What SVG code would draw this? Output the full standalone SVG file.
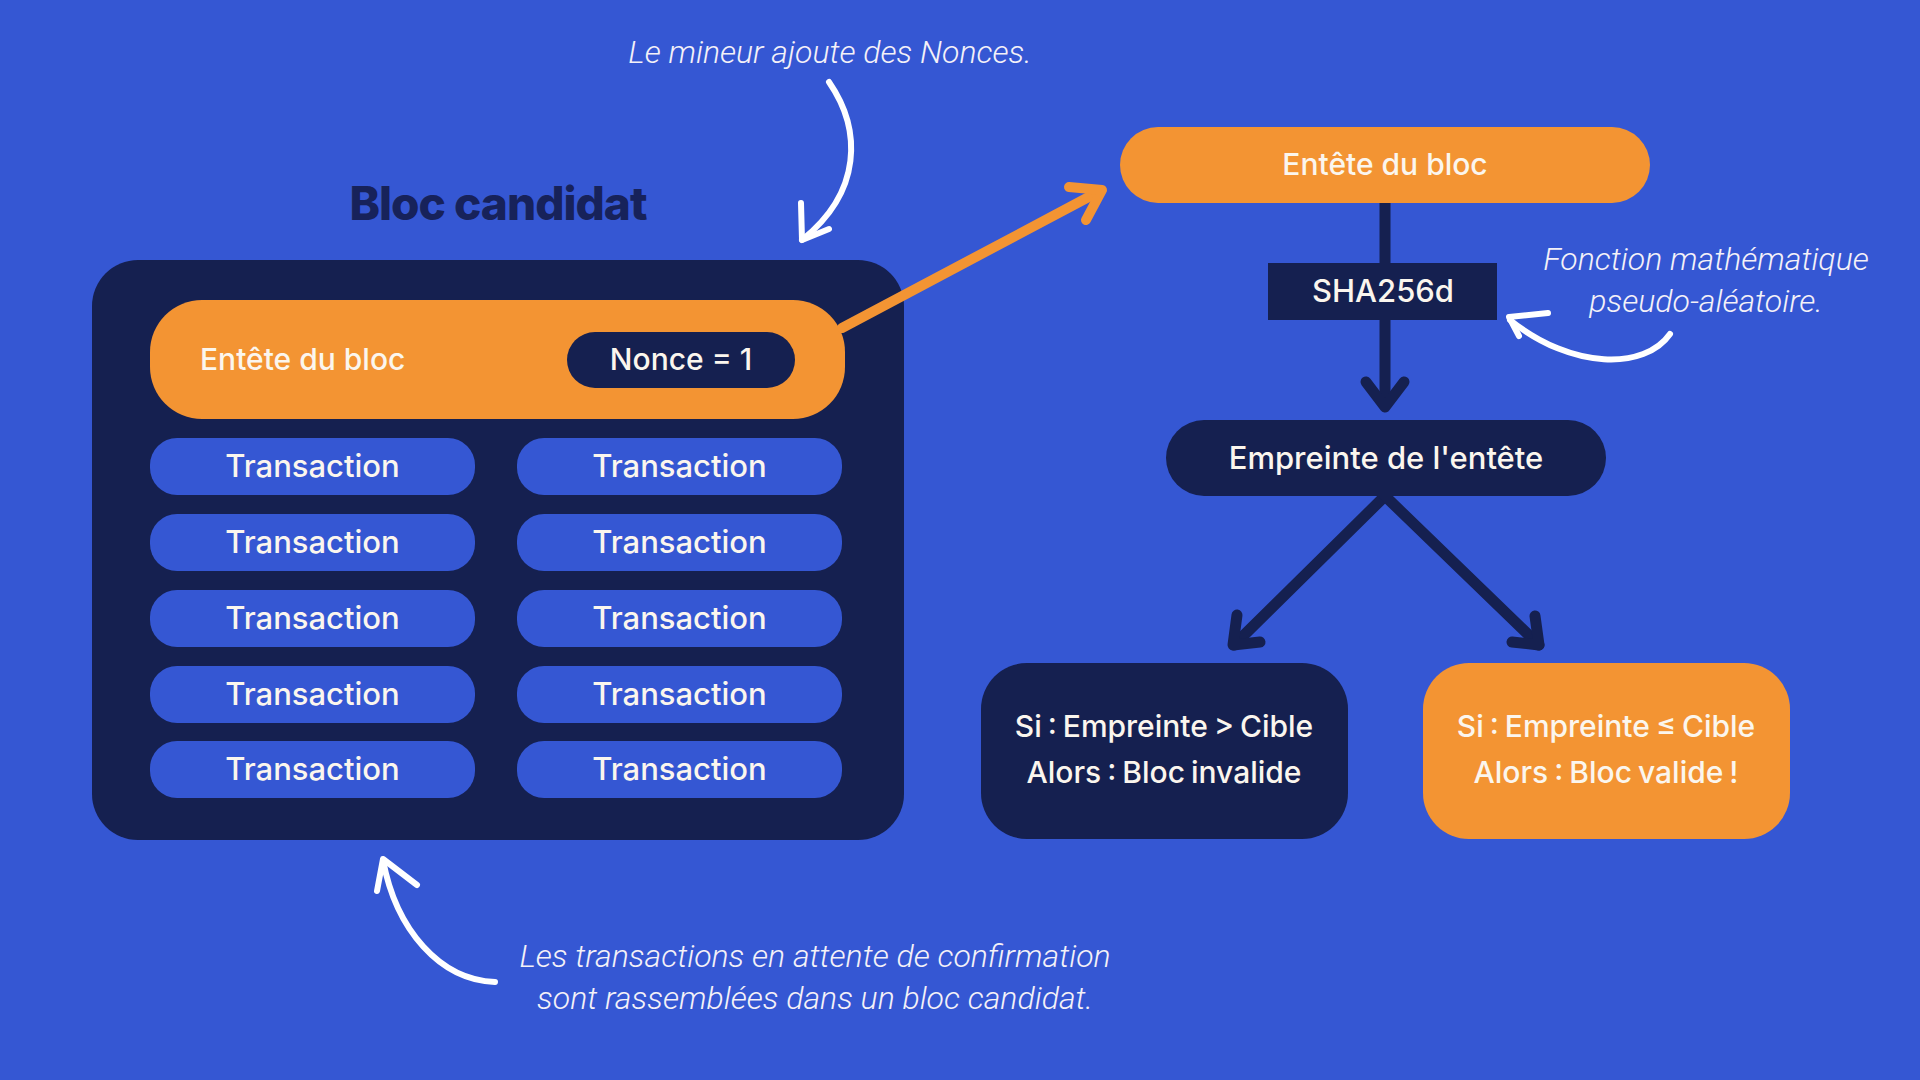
<svg xmlns="http://www.w3.org/2000/svg" width="1920" height="1080" viewBox="0 0 1920 1080">
<style>
.lbl{font-family:Inter,"Liberation Sans",sans-serif;font-weight:500;fill:#fbf6ee;text-anchor:middle}
.note{font-family:Roboto,"Liberation Sans",sans-serif;font-weight:300;font-style:italic;font-size:32px;fill:#f4f1f8;text-anchor:middle}
.tx{fill:#3557d3}
.navy{fill:#152050}
.orange{fill:#f39433}
.wline{fill:none;stroke:#ffffff;stroke-width:6;stroke-linecap:round;stroke-linejoin:round}
.nline{fill:none;stroke:#152050;stroke-width:11;stroke-linecap:round;stroke-linejoin:round}
.oline{fill:none;stroke:#f39433;stroke-width:10;stroke-linecap:round;stroke-linejoin:round}
</style>
<rect x="0" y="0" width="1920" height="1080" fill="#3557d3"/>

<g id="title">
<text x="498" y="220" font-family="Inter,'Liberation Sans',sans-serif" font-weight="800" font-size="46" fill="#17225a" text-anchor="middle" letter-spacing="-1">Bloc candidat</text>
</g>

<g id="candidate-block">
<rect x="92" y="260" width="812" height="580" rx="46" class="navy"/>
</g>

<g id="block-header">
<rect x="150" y="300" width="695" height="119" rx="52" class="orange"/>
<text x="200" y="370" class="lbl" font-size="30" style="text-anchor:start">Entête du bloc</text>
</g>

<g id="nonce">
<rect x="567" y="332" width="228" height="56" rx="28" class="navy"/>
<text x="681" y="370" class="lbl" font-size="30">Nonce = 1</text>
</g>

<g id="transactions">
<g id="tx1"><rect x="150" y="438" width="325" height="57" rx="27" class="tx"/><text x="312.5" y="477" class="lbl" font-size="31">Transaction</text></g>
<g id="tx2"><rect x="517" y="438" width="325" height="57" rx="27" class="tx"/><text x="679.5" y="477" class="lbl" font-size="31">Transaction</text></g>
<g id="tx3"><rect x="150" y="514" width="325" height="57" rx="27" class="tx"/><text x="312.5" y="553" class="lbl" font-size="31">Transaction</text></g>
<g id="tx4"><rect x="517" y="514" width="325" height="57" rx="27" class="tx"/><text x="679.5" y="553" class="lbl" font-size="31">Transaction</text></g>
<g id="tx5"><rect x="150" y="590" width="325" height="57" rx="27" class="tx"/><text x="312.5" y="629" class="lbl" font-size="31">Transaction</text></g>
<g id="tx6"><rect x="517" y="590" width="325" height="57" rx="27" class="tx"/><text x="679.5" y="629" class="lbl" font-size="31">Transaction</text></g>
<g id="tx7"><rect x="150" y="666" width="325" height="57" rx="27" class="tx"/><text x="312.5" y="705" class="lbl" font-size="31">Transaction</text></g>
<g id="tx8"><rect x="517" y="666" width="325" height="57" rx="27" class="tx"/><text x="679.5" y="705" class="lbl" font-size="31">Transaction</text></g>
<g id="tx9"><rect x="150" y="741" width="325" height="57" rx="27" class="tx"/><text x="312.5" y="780" class="lbl" font-size="31">Transaction</text></g>
<g id="tx10"><rect x="517" y="741" width="325" height="57" rx="27" class="tx"/><text x="679.5" y="780" class="lbl" font-size="31">Transaction</text></g>
</g>

<g id="connectors">
<path class="oline" d="M842 328 L1100 191"/>
<path class="oline" d="M1069 187 L1102 190 L1086 220"/>
<path class="nline" d="M1385 200 L1385 405"/>
<path class="nline" d="M1366 382 L1385 407 L1404 382"/>
<path class="nline" d="M1385 496 L1234 645"/>
<path class="nline" d="M1237 615 L1233 645 L1260 642"/>
<path class="nline" d="M1385 496 L1539 645"/>
<path class="nline" d="M1535 616 L1539 645 L1512 642"/>
<path class="wline" d="M829 82 C862 130 862 192 802 240"/>
<path class="wline" d="M801 203 L802 240 L829 229"/>
<path class="wline" d="M1670 334 C1645 370 1572 370 1510 320"/>
<path class="wline" d="M1548 313 L1509 317 L1519 336"/>
<path class="wline" d="M495 982 C440 980 396 930 383 860"/>
<path class="wline" d="M377 891 L383 859 L417 885"/>
</g>

<g id="header-right">
<rect x="1120" y="127" width="530" height="76" rx="38" class="orange"/>
<text x="1385" y="175" class="lbl" font-size="30">Entête du bloc</text>
</g>

<g id="sha256d">
<rect x="1268" y="263" width="229" height="57" class="navy"/>
<text x="1383" y="302" class="lbl" font-size="31">SHA256d</text>
</g>

<g id="empreinte">
<rect x="1166" y="420" width="440" height="76" rx="38" class="navy"/>
<text x="1386" y="469" class="lbl" font-size="31">Empreinte de l'entête</text>
</g>

<g id="invalid">
<rect x="981" y="663" width="367" height="176" rx="46" class="navy"/>
<text x="1164" y="737" class="lbl" font-size="30" word-spacing="-2">Si : Empreinte &gt; Cible</text>
<text x="1164" y="783" class="lbl" font-size="30" word-spacing="-2">Alors : Bloc invalide</text>
</g>

<g id="valid">
<rect x="1423" y="663" width="367" height="176" rx="46" class="orange"/>
<text x="1606" y="737" class="lbl" font-size="30" word-spacing="-2">Si : Empreinte ≤ Cible</text>
<text x="1606" y="783" class="lbl" font-size="30" word-spacing="-2">Alors : Bloc valide !</text>
</g>

<g id="notes">
<text x="830" y="63" class="note">Le mineur ajoute des Nonces.</text>
<text x="1706" y="270" class="note">Fonction mathématique</text>
<text x="1706" y="312" class="note">pseudo-aléatoire.</text>
<text x="815" y="967" class="note">Les transactions en attente de confirmation</text>
<text x="815" y="1009" class="note">sont rassemblées dans un bloc candidat.</text>
</g>
</svg>
